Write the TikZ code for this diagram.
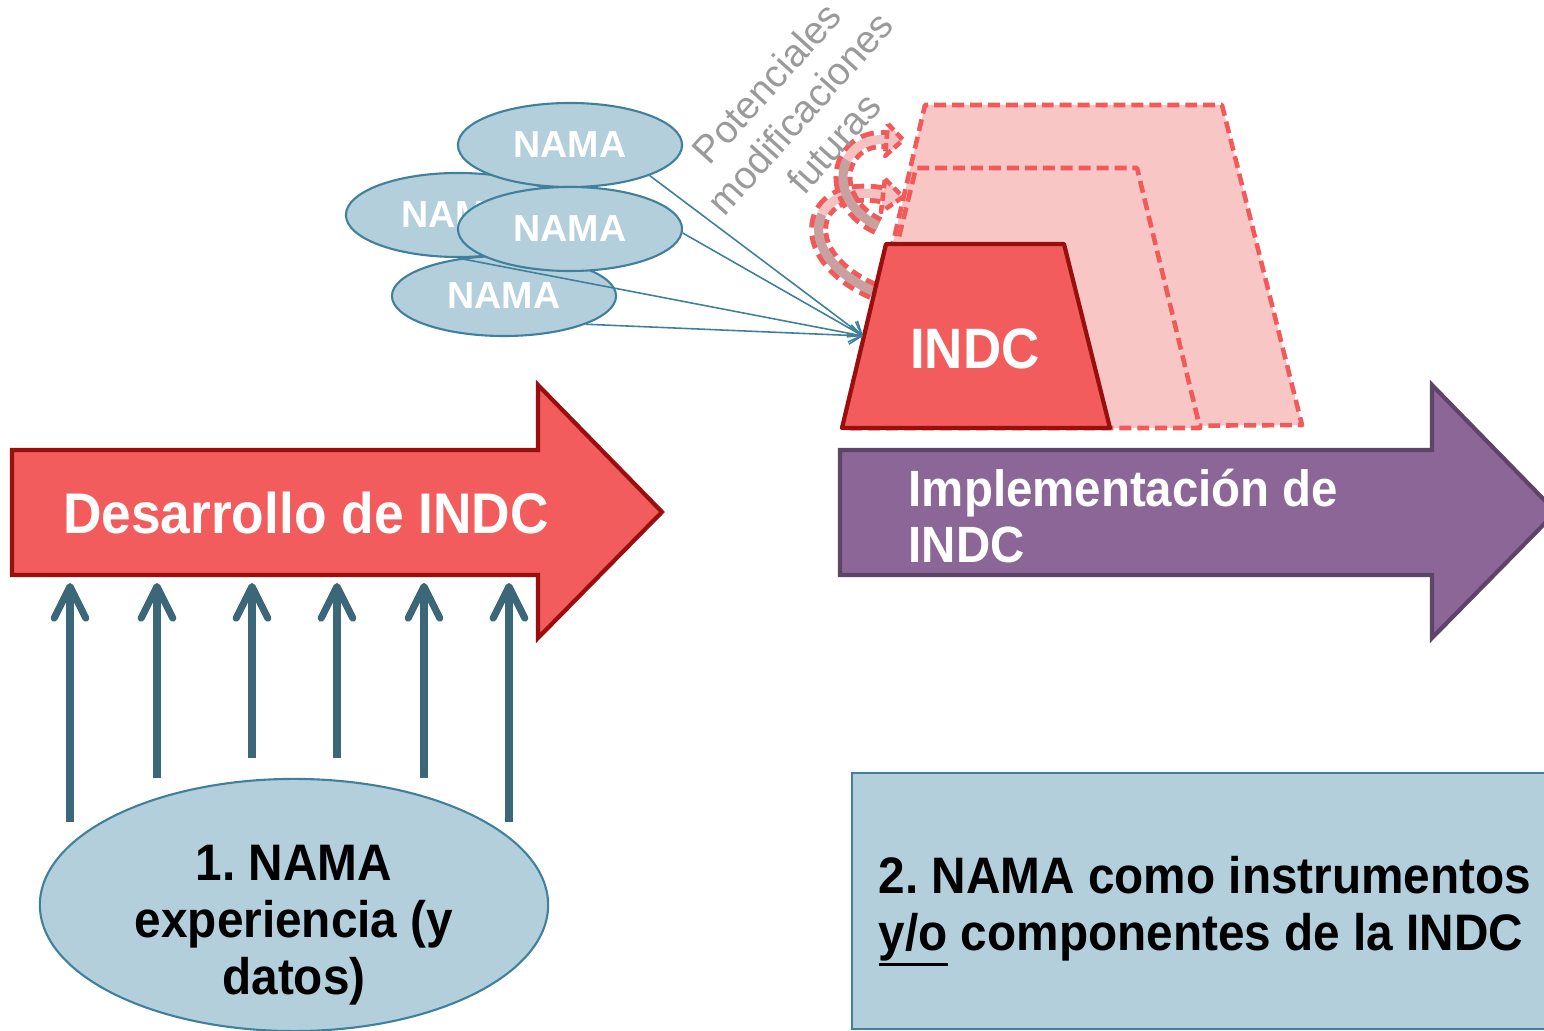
\documentclass[tikz,border=0pt]{standalone}
\usepackage{fontspec}
\setmainfont{Liberation Sans}
\newfontfamily\narrowfont{Liberation Sans}[FakeStretch=0.93]
\usetikzlibrary{arrows.meta,shapes.geometric}

\definecolor{indcred}{HTML}{F25C5C}
\definecolor{indcdark}{HTML}{9A0E0E}
\definecolor{futpink}{HTML}{F9C6C6}
\definecolor{futline}{HTML}{F25A5A}
\definecolor{curlgray}{HTML}{C9A0A0}
\definecolor{curlpink}{HTML}{F4C2C2}
\definecolor{implpurple}{HTML}{8C6697}
\definecolor{impldark}{HTML}{5E4468}
\definecolor{namafill}{HTML}{B3CFDC}
\definecolor{namaline}{HTML}{41809C}
\definecolor{upteal}{HTML}{3B6779}
\definecolor{potgray}{HTML}{9A9A9A}

\newcommand\thickul[1]{\vtop{\hbox{#1}\kern0.5pt\hrule height 0.9pt}}

\tikzset{
  nama/.style={ellipse, draw=namaline, fill=namafill, line width=0.6pt,
    minimum width=2.24cm, minimum height=0.84cm, inner sep=0pt,
    text=white, font=\fontsize{10.7}{12}\selectfont\bfseries},
  namalink/.style={draw=namaline, line width=0.45pt, -{Straight Barb[length=3.5pt,width=5pt]}},
  uparr/.style={draw=upteal, line width=2pt, -{Straight Barb[length=9pt,width=9pt,round]}},
  futdash/.style={fill=futpink, draw=futline, line width=1.3pt, dash pattern=on 3.4pt off 1.7pt, line join=round},
  curlout/.style={draw=futline, line width=5.4pt, dash pattern=on 3.2pt off 1.8pt},
  curlin/.style={line width=2.6pt},
  curlhead/.style={fill=curlpink, draw=futline, line width=1.3pt, dash pattern=on 2.4pt off 1.2pt, line join=round},
  bigtext/.style={text=white, inner sep=0pt, font=\narrowfont\fontsize{16.3}{19}\selectfont\bfseries},
  blacktext/.style={text=black, inner sep=0pt, font=\narrowfont\fontsize{14.6}{16.2}\selectfont\bfseries}
}

\begin{document}
\frenchspacing
\begin{tikzpicture}[x=0.01cm,y=-0.01cm]
  \clip (0,0) rectangle (1544,1031);

  % arrows
  \filldraw[fill=indcred, draw=indcdark, line width=1.2pt]
    (12,450)--(538,450)--(538,385)--(662,512)--(538,638)--(538,575)--(12,575)--cycle;
  \node[bigtext] (desarrollo) at (306,513) {Desarrollo de INDC};

  \filldraw[fill=implpurple, draw=impldark, line width=1.2pt]
    (840,450)--(1432,450)--(1432,385)--(1556,512)--(1432,638)--(1432,575)--(840,575)--cycle;
  \node[bigtext, font=\narrowfont\fontsize{14.5}{16.2}\selectfont\bfseries, align=left, anchor=base west]
    (implem) at (908,563) {Implementación de\\INDC};

  % future INDC
  \filldraw[futdash] (850,428)--(925,105)--(1222,105)--(1302,425)--cycle;
  \filldraw[futdash] (852,428)--(916,168)--(1137,168)--(1200,428)--cycle;

  \def\curl#1#2#3{\draw[curlout] #1 #2 #3; \draw[curlin, curlgray] #1 #2; \draw[curlin, curlpink] #2 #3;}
  \curl{(873,291) .. controls (830,272) and (810,240) ..}{(822,214)}{.. controls (832,195) and (855,190) .. (884,195)}
  \filldraw[curlhead] (885,179)--(903,197)--(881,212)--cycle;
  \curl{(878,226) .. controls (848,212) and (836,182) ..}{(847,160)}{.. controls (856,143) and (872,138) .. (889,140)}
  \filldraw[curlhead] (888,124)--(903,140)--(885,156)--cycle;

  \filldraw[fill=indcred, draw=indcdark, line width=1.2pt, line join=round]
    (842,428)--(886,244)--(1064,244)--(1110,428)--cycle;
  \node[bigtext, font=\narrowfont\fontsize{16.2}{19}\selectfont\bfseries] (indc) at (975,349) {INDC};
  \coordinate (indcin) at (863,336);

  \node[rotate=48, align=center, text=potgray, font=\fontsize{11}{12.8}\selectfont]
    (potmod) at (800,113) {Potenciales\\modificaciones\\futuras};

  % NAMAs
  \node[nama, minimum height=0.8cm] (n4) at (504,296) {NAMA};
  \node[nama] (n2) at (458,215) {NAMA};
  \node[nama] (n1) at (570,145) {NAMA};
  \node[nama] (n3) at (570,229) {NAMA};

  \draw[namalink] (n1.-21) -- (indcin);
  \draw[namalink] (n3.-2) -- (indcin);
  \draw[namalink] (n2.south) -- (indcin);
  \draw[namalink] (n4.-19) -- (indcin);

  % experience
  \node[ellipse, draw=namaline, fill=namafill, line width=0.6pt,
    minimum width=5.08cm, minimum height=2.52cm] (exper) at (294,905) {};
  \node[blacktext, align=center] (expertxt) at (294,925) {1. NAMA\\experiencia (y\\datos)};

  \foreach \x/\yb in {70/822,157/778,252/758,337/758,424/778,509/822}{
    \coordinate (b\x) at (\x,\yb);
    \coordinate (t\x) at (\x,583);
    \draw[uparr] (b\x) -- (t\x);
  }

  % instruments
  \filldraw[fill=namafill, draw=namaline, line width=0.8pt] (852,773) rectangle (1570,1029);
  \node[blacktext, align=left, anchor=west] (insttxt) at (878,911)
    {2. NAMA como instrumentos\\\thickul{y/o} componentes de la INDC};
\end{tikzpicture}
\end{document}
